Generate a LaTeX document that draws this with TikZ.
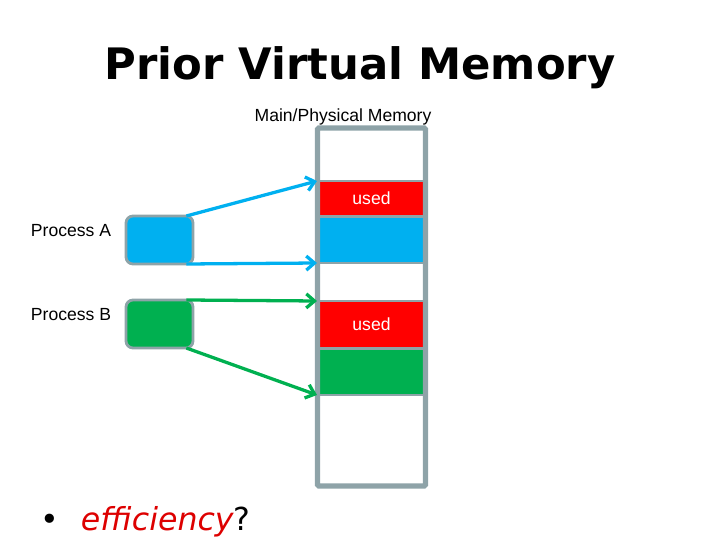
\documentclass[tikz,border=0pt]{standalone}
\usepackage{fontspec}
\usepackage{tikz}
\usepackage{xcolor}
\usetikzlibrary{positioning,arrows.meta}
\setmainfont{DejaVu Sans}
\newfontfamily\arialfont{Liberation Sans}
\definecolor{MemGray}{HTML}{8EA3A8}
\definecolor{ProcBlue}{HTML}{00B0F0}
\definecolor{ProcGreen}{HTML}{00B050}
\definecolor{UsedRed}{HTML}{FF0000}
\definecolor{EffRed}{HTML}{DD0000}

\begin{document}
\begin{tikzpicture}[
    x=0.03cm, y=-0.03cm,
    every node/.style={inner sep=0pt, outer sep=0pt},
    label/.style={font=\arialfont\fontsize{15}{17}\selectfont},
    block/.style={draw=MemGray, line width=1.5pt, minimum width=3.15cm},
    procbox/.style={draw=MemGray, line width=2.4pt, rounded corners=6pt, minimum width=2.01cm, minimum height=1.44cm},
    memcol/.style={draw=MemGray, line width=4.3pt, rounded corners=1pt, minimum width=3.24cm, minimum height=10.74cm},
    arrow/.style={-{Straight Barb[length=7pt,width=12pt]}, line width=2.8pt}
  ]
    \useasboundingbox (0,0) rectangle (720,540);

    \node[font=\bfseries\fontsize{37}{40}\selectfont] (title) at (360,68) {Prior Virtual Memory};
    \node[label] (memlabel) at (343,117) {Main/Physical Memory};

    % memory blocks
    \node[block, fill=UsedRed, minimum height=1.05cm, text=white, label] (usedA) at (371.5,198.5) {used};
    \node[block, fill=ProcBlue, minimum height=1.38cm] (blockA) at (371.5,240) {};
    \node[block, fill=UsedRed, minimum height=1.41cm, text=white, label] (usedB) at (371.5,324.5) {used};
    \node[block, fill=ProcGreen, minimum height=1.38cm] (blockB) at (371.5,372) {};
    \node[memcol] (mem) at (371.5,307) {};

    % processes
    \node[label] (labA) at (71,231) {Process A};
    \node[label] (labB) at (71,315) {Process B};
    \node[procbox, fill=ProcBlue] (procA) at (159.5,240) {};
    \node[procbox, fill=ProcGreen] (procB) at (159.5,324) {};

    \draw[arrow, ProcBlue] ([xshift=-0.2cm]procA.north east) -- ([xshift=-0.06cm]usedA.north west);
    \draw[arrow, ProcBlue] ([xshift=-0.2cm]procA.south east) -- ([xshift=-0.06cm]blockA.south west);
    \draw[arrow, ProcGreen] ([xshift=-0.2cm]procB.north east) -- ([xshift=-0.06cm]usedB.north west);
    \draw[arrow, ProcGreen] ([xshift=-0.2cm]procB.south east) -- ([xshift=-0.06cm]blockB.south west);

    \node[anchor=base west, font=\fontsize{27}{30}\selectfont] (eff) at (40,530)
      {•\hspace{0.7em}{\color{EffRed}\itshape efficiency}?};
  \end{tikzpicture}
\end{document}
